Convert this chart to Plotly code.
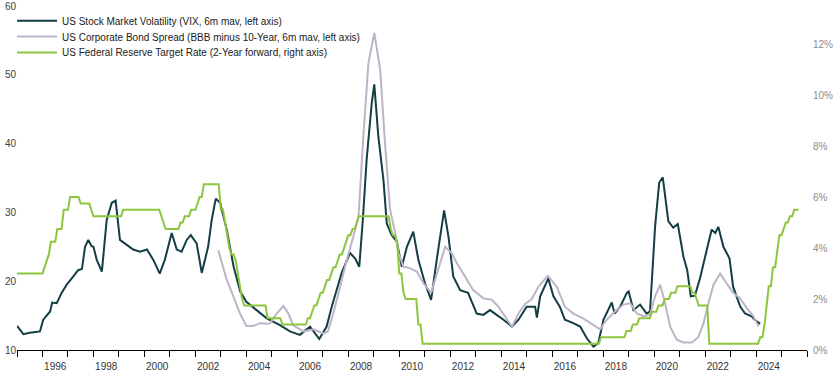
import plotly.graph_objects as go

# ---------------- data ----------------
# US Stock Market Volatility (VIX, 6m moving average), left axis
vix_t = [1995.00, 1995.25, 1995.50, 1995.90, 1996.03, 1996.30, 1996.38, 1996.56, 1996.75, 1996.95,
         1997.15, 1997.40, 1997.55, 1997.67, 1997.80, 1997.93, 1998.00, 1998.13, 1998.33, 1998.52,
         1998.72, 1998.87, 1999.04, 1999.30, 1999.56, 1999.83, 2000.10, 2000.35, 2000.60, 2000.80,
         2001.07, 2001.27, 2001.46, 2001.66, 2001.82, 2002.05, 2002.25, 2002.50, 2002.64, 2002.80,
         2002.97, 2003.23, 2003.50, 2003.76, 2004.00, 2004.40, 2004.80, 2005.32, 2005.71, 2006.10,
         2006.50, 2006.86, 2007.15, 2007.35, 2007.55, 2007.74, 2008.07, 2008.27, 2008.43, 2008.57,
         2008.72, 2008.92, 2009.02, 2009.18, 2009.38, 2009.51, 2009.70, 2009.90, 2010.10, 2010.30,
         2010.55, 2010.75, 2011.01, 2011.25, 2011.47, 2011.76, 2011.93, 2012.12, 2012.39, 2012.70,
         2013.04, 2013.30, 2013.56, 2013.83, 2014.09, 2014.42, 2014.68, 2015.00, 2015.33, 2015.40,
         2015.53, 2015.85, 2016.05, 2016.30, 2016.50, 2016.83, 2017.10, 2017.36, 2017.62, 2017.81,
         2018.01, 2018.34, 2018.45, 2018.67, 2018.93, 2019.00, 2019.19, 2019.45, 2019.71, 2019.84,
         2020.04, 2020.20, 2020.34, 2020.56, 2020.75, 2020.93, 2021.15, 2021.30, 2021.44, 2021.60,
         2021.80, 2022.07, 2022.26, 2022.40, 2022.52, 2022.72, 2022.96, 2023.10, 2023.38, 2023.57,
         2023.83, 2023.95, 2024.16]
vix_v = [13.5, 12.3, 12.5, 12.7, 14.4, 15.6, 16.9, 16.8, 18.3, 19.5,
         20.4, 21.6, 21.8, 25.0, 26.0, 25.1, 25.0, 23.1, 21.4, 28.9,
         31.4, 31.7, 26.0, 25.3, 24.6, 24.3, 24.6, 23.1, 21.1, 23.1,
         27.0, 24.6, 24.3, 26.0, 26.7, 25.5, 21.2, 25.0, 28.9, 32.0,
         31.4, 27.5, 22.1, 18.5, 17.0, 15.8, 14.6, 13.6, 12.7, 12.2,
         13.4, 11.6, 13.4, 16.3, 18.7, 21.2, 24.1, 23.3, 22.1, 28.9,
         37.7, 45.9, 48.6, 41.0, 34.7, 28.4, 26.7, 25.8, 22.1, 25.0,
         27.2, 23.1, 19.7, 17.3, 23.1, 30.3, 26.5, 20.7, 18.7, 18.3,
         15.3, 15.1, 15.8, 15.1, 14.4, 13.4, 14.4, 16.3, 16.3, 14.7,
         17.8, 20.4, 17.8, 16.3, 14.4, 13.9, 13.4, 11.7, 10.5, 11.0,
         14.4, 16.9, 15.3, 16.3, 18.3, 18.5, 15.8, 16.6, 15.3, 15.6,
         28.0, 34.3, 35.1, 28.7, 27.8, 28.3, 23.6, 21.6, 17.8, 17.9,
         20.4, 24.6, 27.5, 27.0, 27.9, 25.0, 23.3, 19.2, 16.3, 15.3,
         14.9, 14.4, 13.8]

# US Corporate Bond Spread (BBB minus 10-Year, 6m moving average), left axis
spr_t = [2002.90, 2003.23, 2003.49, 2003.75, 2004.00, 2004.27, 2004.54, 2004.80, 2004.93, 2005.19,
         2005.45, 2005.65, 2005.84, 2006.24, 2006.63, 2007.02, 2007.20, 2007.41, 2007.68, 2007.94,
         2008.20, 2008.40, 2008.59, 2008.79, 2009.02, 2009.25, 2009.44, 2009.64, 2009.84, 2009.97,
         2010.16, 2010.42, 2010.69, 2010.95, 2011.25, 2011.53, 2011.80, 2012.06, 2012.26, 2012.58,
         2012.90, 2013.30, 2013.63, 2013.89, 2014.15, 2014.42, 2014.68, 2014.94, 2015.20, 2015.46,
         2015.83, 2016.18, 2016.50, 2016.83, 2017.22, 2017.62, 2017.88, 2018.14, 2018.47, 2018.80,
         2019.06, 2019.32, 2019.58, 2019.84, 2020.04, 2020.24, 2020.43, 2020.63, 2020.89, 2021.15,
         2021.48, 2021.74, 2021.94, 2022.13, 2022.33, 2022.59, 2022.85, 2023.10, 2023.38, 2023.64,
         2023.90, 2024.10]
spr_v = [24.5, 20.2, 17.8, 15.3, 13.5, 13.5, 13.9, 13.8, 13.9, 15.3,
         16.4, 15.3, 13.6, 12.7, 13.0, 12.4, 12.7, 15.3, 19.2, 23.1,
         26.5, 29.4, 41.0, 51.7, 56.1, 50.8, 40.1, 30.4, 27.0, 24.1,
         22.1, 21.9, 21.4, 19.7, 18.3, 21.6, 25.0, 24.1, 22.6, 20.7,
         18.7, 17.5, 17.3, 16.3, 14.9, 13.4, 15.3, 16.7, 17.4, 19.2,
         20.8, 19.2, 16.3, 15.3, 14.6, 13.6, 13.0, 14.4, 15.6, 16.6,
         16.8, 15.3, 14.9, 15.1, 17.8, 19.5, 16.8, 13.4, 11.5, 11.1,
         11.1, 11.9, 13.9, 16.8, 19.5, 21.1, 19.7, 18.3, 17.5, 16.1,
         14.9, 13.4]

# US Federal Reserve target rate changes (month of change, new level in %),
# plotted two years forward on the right axis
fed_change_month = ["1993-01", "1994-02", "1994-03", "1994-04", "1994-05", "1994-08", "1994-11",
                    "1995-02", "1995-07", "1995-12", "1996-01", "1997-03", "1998-09", "1998-10",
                    "1998-11", "1999-06", "1999-08", "1999-11", "2000-02", "2000-03", "2000-05",
                    "2001-01", "2001-03", "2001-04", "2001-05", "2001-06", "2001-08", "2001-09",
                    "2001-10", "2001-11", "2001-12", "2002-11", "2003-06", "2004-06", "2004-08",
                    "2004-09", "2004-11", "2004-12", "2005-02", "2005-03", "2005-05", "2005-06",
                    "2005-08", "2005-09", "2005-11", "2005-12", "2006-01", "2006-03", "2006-05",
                    "2006-06", "2007-09", "2007-10", "2007-12", "2008-01", "2008-03", "2008-04",
                    "2008-10", "2008-12", "2015-12", "2016-12", "2017-03", "2017-06", "2017-12",
                    "2018-03", "2018-06", "2018-09", "2018-12", "2019-07", "2019-09", "2019-10",
                    "2020-03", "2022-03", "2022-05", "2022-06", "2022-07", "2022-09", "2022-11",
                    "2022-12", "2023-02", "2023-03", "2023-05", "2023-07"]
fed_change_rate = [3.00, 3.25, 3.50, 3.75, 4.25, 4.75, 5.50,
                   6.00, 5.75, 5.50, 5.25, 5.50, 5.25, 5.00,
                   4.75, 5.00, 5.25, 5.50, 5.75, 6.00, 6.50,
                   5.50, 5.00, 4.50, 4.00, 3.75, 3.50, 3.00,
                   2.50, 2.00, 1.75, 1.25, 1.00, 1.25, 1.50,
                   1.75, 2.00, 2.25, 2.50, 2.75, 3.00, 3.25,
                   3.50, 3.75, 4.00, 4.25, 4.50, 4.75, 5.00,
                   5.25, 4.75, 4.50, 4.25, 3.00, 2.25, 2.00,
                   1.00, 0.25, 0.50, 0.75, 1.00, 1.25, 1.50,
                   1.75, 2.00, 2.25, 2.50, 2.25, 2.00, 1.75,
                   0.25, 0.50, 1.00, 1.75, 2.50, 3.25, 4.00,
                   4.50, 4.75, 5.00, 5.25, 5.50]
fed_last_month = "2023-09"
fed_shift_years = 2

year_ticks = list(range(1995, 2027))
label_years = list(range(1996, 2026, 2))
left_ticks = [10, 20, 30, 40, 50, 60]
grid_ticks = [20, 30, 40, 50]
right_ticks = [0.00, 0.02, 0.04, 0.06, 0.08, 0.10, 0.12]

# ---------------- build monthly fed series ----------------
changes = {m: r for m, r in zip(fed_change_month, fed_change_rate)}
fed_t, fed_v = [], []
y0, m0 = map(int, fed_change_month[0].split("-"))
y1, m1 = map(int, fed_last_month.split("-"))
level = None
y, m = y0, m0
while (y, m) <= (y1, m1):
    key = f"{y:04d}-{m:02d}"
    if key in changes:
        level = changes[key]
    fed_t.append(y + fed_shift_years + (m - 1) / 12)
    fed_v.append(level / 100)
    m += 1
    if m > 12:
        m = 1
        y += 1

C_VIX = "#123e44"
C_SPR = "#bdb4c7"
C_FED = "#8cc63f"
FONT = "Liberation Sans"

fig = go.Figure()
fig.add_trace(go.Scatter(x=vix_t, y=vix_v, mode="lines", name="US Stock Market Volatility (VIX, 6m mav, left axis)",
                         line=dict(color=C_VIX, width=2), yaxis="y", legend="legend"))
fig.add_trace(go.Scatter(x=spr_t, y=spr_v, mode="lines", name="US Corporate Bond Spread (BBB minus 10-Year, 6m mav, left axis)",
                         line=dict(color=C_SPR, width=2), yaxis="y", legend="legend2"))
fig.add_trace(go.Scatter(x=fed_t, y=fed_v, mode="lines", name="US Federal Reserve Target Rate (2-Year forward, right axis)",
                         line=dict(color=C_FED, width=2), yaxis="y2", legend="legend3"))

leg_common = dict(x=-0.0063, xanchor="left", yanchor="middle", bgcolor="rgba(0,0,0,0)",
                  font=dict(family=FONT, size=10, color="#202020"), borderwidth=0, itemwidth=40)

fig.update_layout(
    width=833, height=372, autosize=False,
    margin=dict(l=17, r=26, t=6, b=22, autoexpand=False),
    paper_bgcolor="white", plot_bgcolor="white",
    font=dict(family=FONT, size=10, color="#404040"),
    showlegend=True,
    legend=dict(y=0.957, **leg_common),
    legend2=dict(y=0.911, **leg_common),
    legend3=dict(y=0.865, **leg_common),
    xaxis=dict(range=[1995, 2026], tickmode="array", tickvals=[y + 0.5 for y in label_years],
               ticktext=[str(y) for y in label_years], ticks="outside", ticklen=7,
               tickcolor="rgba(0,0,0,0)", showline=True, linecolor="black", linewidth=1,
               showgrid=False, zeroline=False, tickfont=dict(color="#333333", size=10),
               automargin=False,
               minor=dict(tickmode="array", tickvals=year_ticks, ticks="outside", ticklen=6,
                          tickcolor="black", tickwidth=1, showgrid=False)),
    yaxis=dict(range=[10, 60], tickmode="array", tickvals=left_ticks, showgrid=False,
               zeroline=False, showline=False, ticks="", automargin=False,
               tickfont=dict(color="#404040", size=10)),
    yaxis3=dict(range=[10, 60], overlaying="y", tickmode="array", tickvals=grid_ticks,
                showticklabels=False, showgrid=True, gridcolor="#b0b0b0", griddash="dot",
                gridwidth=1, zeroline=False, showline=False, ticks="", automargin=False),
    yaxis2=dict(range=[0, 0.135], overlaying="y", side="right", tickmode="array",
                tickvals=right_ticks, tickformat=".0%", showgrid=False, zeroline=False,
                showline=False, ticks="outside", ticklen=3, tickcolor="rgba(0,0,0,0)",
                automargin=False, tickfont=dict(color="#8c8c8c", size=10)),
)

fig.write_html("out.html", config={"displayModeBar": False},
               post_script="document.body.style.margin='0';")
